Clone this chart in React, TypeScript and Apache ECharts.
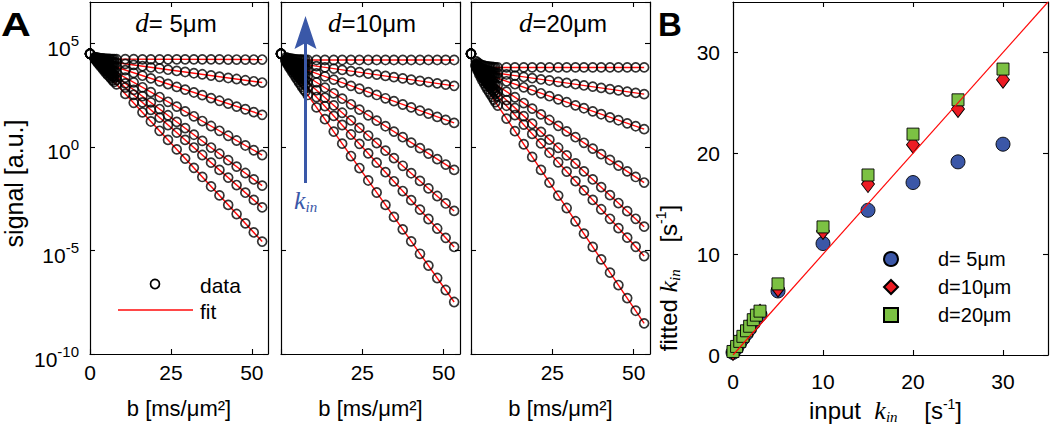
import { useEffect, useRef } from "react";
import * as echarts from "echarts";

// ---------------- data ----------------
// b-values [ms/µm²] at which every curve of panel A was sampled
const B_VALUES = [0, 1.5, 2, 2.5, 3, 3.5, 4, 4.5, 5, 5.5, 6, 6.5, 7, 7.5, 8.2, 10.9, 13.5, 16.2, 18.8, 21.5, 24.1, 26.8, 29.4, 32.1, 34.7, 37.4, 40.0, 42.7, 45.3, 48.0, 50.6, 53.2];

// log10(signal), one row per k_in curve
const D5_LOG_SIGNAL = [
  [4.5, 4.34, 4.32, 4.30, 4.29, 4.28, 4.27, 4.26, 4.25, 4.25, 4.25, 4.24, 4.24, 4.24, 4.24, 4.24, 4.24, 4.23, 4.23, 4.23, 4.23, 4.23, 4.23, 4.23, 4.23, 4.23, 4.23, 4.22, 4.22, 4.22, 4.22, 4.22],
  [4.5, 4.31, 4.28, 4.25, 4.23, 4.21, 4.19, 4.17, 4.15, 4.14, 4.12, 4.11, 4.10, 4.09, 4.07, 4.01, 3.96, 3.90, 3.84, 3.79, 3.73, 3.67, 3.62, 3.56, 3.51, 3.45, 3.39, 3.33, 3.28, 3.22, 3.17, 3.11],
  [4.5, 4.29, 4.25, 4.20, 4.17, 4.13, 4.10, 4.06, 4.03, 4.00, 3.97, 3.94, 3.91, 3.89, 3.85, 3.71, 3.58, 3.44, 3.31, 3.17, 3.04, 2.90, 2.77, 2.63, 2.50, 2.36, 2.23, 2.09, 1.95, 1.82, 1.68, 1.55],
  [4.5, 4.28, 4.22, 4.16, 4.10, 4.05, 3.99, 3.94, 3.89, 3.84, 3.79, 3.74, 3.70, 3.65, 3.59, 3.35, 3.12, 2.88, 2.65, 2.41, 2.18, 1.95, 1.72, 1.48, 1.25, 1.01, 0.78, 0.54, 0.31, 0.07, -0.16, -0.39],
  [4.5, 4.27, 4.19, 4.11, 4.04, 3.97, 3.90, 3.84, 3.77, 3.71, 3.65, 3.58, 3.52, 3.47, 3.38, 3.07, 2.76, 2.45, 2.15, 1.83, 1.53, 1.21, 0.91, 0.59, 0.29, -0.03, -0.33, -0.64, -0.95, -1.26, -1.57, -1.87],
  [4.5, 4.26, 4.17, 4.08, 4.00, 3.93, 3.85, 3.77, 3.69, 3.62, 3.55, 3.47, 3.41, 3.34, 3.24, 2.87, 2.52, 2.15, 1.79, 1.42, 1.06, 0.69, 0.34, -0.03, -0.39, -0.76, -1.11, -1.48, -1.84, -2.21, -2.56, -2.92],
  [4.5, 4.25, 4.15, 4.04, 3.95, 3.85, 3.76, 3.66, 3.57, 3.48, 3.40, 3.31, 3.22, 3.14, 3.02, 2.56, 2.13, 1.67, 1.23, 0.78, 0.34, -0.12, -0.56, -1.01, -1.45, -1.91, -2.34, -2.80, -3.24, -3.69, -4.13, -4.57],
];
const D10_LOG_SIGNAL = [
  [4.5, 4.32, 4.30, 4.28, 4.26, 4.25, 4.24, 4.23, 4.22, 4.22, 4.21, 4.21, 4.20, 4.20, 4.20, 4.20, 4.20, 4.20, 4.20, 4.20, 4.20, 4.20, 4.20, 4.20, 4.20, 4.20, 4.20, 4.20, 4.20, 4.20, 4.20, 4.20],
  [4.5, 4.23, 4.20, 4.17, 4.14, 4.12, 4.10, 4.08, 4.06, 4.04, 4.02, 4.01, 3.99, 3.98, 3.96, 3.90, 3.84, 3.78, 3.72, 3.66, 3.61, 3.54, 3.49, 3.43, 3.37, 3.31, 3.25, 3.19, 3.13, 3.07, 3.01, 2.95],
  [4.5, 4.20, 4.16, 4.11, 4.06, 4.02, 3.98, 3.94, 3.91, 3.88, 3.84, 3.81, 3.77, 3.74, 3.70, 3.55, 3.41, 3.25, 3.11, 2.95, 2.81, 2.65, 2.51, 2.35, 2.21, 2.05, 1.91, 1.75, 1.61, 1.45, 1.31, 1.16],
  [4.5, 4.18, 4.11, 4.04, 3.97, 3.91, 3.85, 3.79, 3.73, 3.68, 3.62, 3.57, 3.51, 3.46, 3.39, 3.12, 2.86, 2.59, 2.33, 2.06, 1.80, 1.53, 1.27, 1.00, 0.74, 0.47, 0.21, -0.06, -0.32, -0.59, -0.85, -1.11],
  [4.5, 4.16, 4.07, 3.98, 3.89, 3.81, 3.73, 3.66, 3.58, 3.51, 3.43, 3.36, 3.28, 3.21, 3.12, 2.74, 2.38, 2.01, 1.65, 1.28, 0.92, 0.55, 0.19, -0.18, -0.54, -0.91, -1.27, -1.64, -2.00, -2.37, -2.73, -3.09],
  [4.5, 4.14, 4.03, 3.93, 3.82, 3.73, 3.63, 3.54, 3.44, 3.35, 3.26, 3.17, 3.08, 2.99, 2.87, 2.41, 1.97, 1.50, 1.06, 0.60, 0.15, -0.31, -0.76, -1.22, -1.66, -2.13, -2.57, -3.03, -3.48, -3.94, -4.39, -4.83],
  [4.5, 4.12, 3.99, 3.86, 3.73, 3.61, 3.49, 3.37, 3.25, 3.13, 3.01, 2.90, 2.78, 2.67, 2.51, 1.91, 1.34, 0.74, 0.16, -0.44, -1.02, -1.62, -2.20, -2.80, -3.38, -3.98, -4.56, -5.16, -5.73, -6.33, -6.91, -7.49],
];
const D20_LOG_SIGNAL = [
  [4.5, 4.14, 4.08, 4.02, 3.98, 3.94, 3.92, 3.90, 3.89, 3.88, 3.87, 3.86, 3.85, 3.84, 3.84, 3.84, 3.84, 3.84, 3.84, 3.84, 3.84, 3.84, 3.84, 3.84, 3.84, 3.84, 3.84, 3.84, 3.84, 3.84, 3.84, 3.84],
  [4.5, 4.01, 3.94, 3.87, 3.82, 3.77, 3.74, 3.71, 3.68, 3.66, 3.64, 3.62, 3.60, 3.58, 3.56, 3.50, 3.44, 3.38, 3.32, 3.26, 3.21, 3.14, 3.09, 3.03, 2.97, 2.91, 2.85, 2.79, 2.73, 2.67, 2.61, 2.55],
  [4.5, 3.98, 3.90, 3.81, 3.74, 3.67, 3.63, 3.58, 3.54, 3.51, 3.47, 3.43, 3.39, 3.36, 3.32, 3.17, 3.03, 2.88, 2.74, 2.59, 2.45, 2.30, 2.16, 2.01, 1.87, 1.72, 1.58, 1.43, 1.29, 1.14, 1.00, 0.86],
  [4.5, 3.95, 3.84, 3.73, 3.63, 3.54, 3.47, 3.40, 3.34, 3.27, 3.21, 3.15, 3.09, 3.03, 2.95, 2.67, 2.40, 2.12, 1.85, 1.57, 1.30, 1.02, 0.75, 0.47, 0.20, -0.08, -0.35, -0.63, -0.90, -1.18, -1.45, -1.72],
  [4.5, 3.92, 3.78, 3.65, 3.54, 3.43, 3.34, 3.24, 3.16, 3.08, 3.00, 2.92, 2.83, 2.75, 2.65, 2.26, 1.88, 1.49, 1.12, 0.73, 0.35, -0.04, -0.41, -0.80, -1.18, -1.57, -1.94, -2.33, -2.71, -3.10, -3.47, -3.85],
  [4.5, 3.90, 3.75, 3.61, 3.48, 3.36, 3.25, 3.14, 3.05, 2.95, 2.86, 2.76, 2.67, 2.57, 2.45, 1.99, 1.54, 1.08, 0.63, 0.17, -0.28, -0.74, -1.19, -1.65, -2.10, -2.56, -3.01, -3.47, -3.92, -4.38, -4.82, -5.27],
  [4.5, 3.87, 3.69, 3.52, 3.36, 3.20, 3.07, 2.93, 2.80, 2.67, 2.55, 2.42, 2.29, 2.17, 2.00, 1.37, 0.76, 0.13, -0.48, -1.11, -1.72, -2.35, -2.95, -3.59, -4.19, -4.83, -5.43, -6.07, -6.67, -7.30, -7.91, -8.52],
];

// fitted mono-exponential lines (log10 signal at the first and last fitted b)
const FIT_B = [1.2, 53.2];
const D5_FIT_START = [4.24, 4.22, 4.21, 4.21, 4.20, 4.20, 4.20];
const D5_FIT_END = [4.22, 3.11, 1.55, -0.39, -1.87, -2.92, -4.57];
const D10_FIT_START = [4.20, 4.12, 4.10, 4.09, 4.08, 4.07, 4.07];
const D10_FIT_END = [4.20, 2.95, 1.16, -1.11, -3.09, -4.83, -7.49];
const D20_FIT_START = [3.84, 3.72, 3.70, 3.68, 3.66, 3.65, 3.64];
const D20_FIT_END = [3.84, 2.55, 0.86, -1.72, -3.85, -5.27, -8.52];

// panel B: input vs fitted k_in [1/s]
const KIN_INPUT = [0, 0.4, 0.75, 1.1, 1.5, 1.85, 2.25, 2.6, 3, 5, 10, 15, 20, 25, 30];
const KIN_FIT_D5 = [0.25, 0.7, 1.2, 1.65, 2.15, 2.6, 3.15, 3.6, 4.0, 6.35, 11.05, 14.35, 17.1, 19.15, 20.9];
const KIN_FIT_D10 = [0.3, 0.8, 1.3, 1.8, 2.3, 2.75, 3.35, 3.85, 4.2, 6.6, 12.3, 16.95, 20.85, 24.4, 27.3];
const KIN_FIT_D20 = [0.35, 0.85, 1.35, 1.85, 2.4, 2.85, 3.5, 3.95, 4.35, 7.05, 12.7, 17.85, 21.9, 25.3, 28.35];
const IDENTITY = [0, 35];

// ticks / labels
const A_X_TICKS = [0, 25, 50];
const A_X_MAX = 55;
const A_Y_EXPONENTS = [-10, -5, 0, 5];
const A_Y_MAX = 7;
const B_TICKS = [0, 10, 20, 30];
const B_MAX = 35;
const PANEL_D = ["= 5μm", "=10μm", "=20μm"];
const LEGEND_NAMES = ["d= 5μm", "d=10μm", "d=20μm"];

// ---------------- styling ----------------
const FONT = "'Liberation Sans', Arial, Helvetica, sans-serif";
const SERIF = "'Liberation Serif', 'Times New Roman', serif";
const RED = "#ff0a0a";
const BLUE_PT = "#3b57a7";
const RED_PT = "#ec1c24";
const GREEN_PT = "#7cc143";
const ARROW_BLUE = "#3a58a8";

const GRIDS = [
  { left: 90, top: 2, width: 178, height: 352 },
  { left: 281, top: 2, width: 179, height: 352 },
  { left: 471, top: 2, width: 179, height: 352 },
  { left: 733, top: 2, width: 315, height: 353 },
];

const axisLine = { show: true, onZero: false, lineStyle: { color: "#000", width: 1.2 } };
const axisTick = { show: true, inside: true, length: 5, lineStyle: { color: "#000", width: 1.1 } };
const noSplit = { show: false };

function buildOption() {
  const panels = [
    { logs: D5_LOG_SIGNAL, start: D5_FIT_START, end: D5_FIT_END },
    { logs: D10_LOG_SIGNAL, start: D10_FIT_START, end: D10_FIT_END },
    { logs: D20_LOG_SIGNAL, start: D20_FIT_START, end: D20_FIT_END },
  ];
  const xAxis: any[] = [];
  const yAxis: any[] = [];
  const series: any[] = [];
  const aInterval = A_X_TICKS[1] - A_X_TICKS[0];
  const yInterval = A_Y_EXPONENTS[1] - A_Y_EXPONENTS[0];

  panels.forEach((p, pi) => {
    xAxis.push({
      type: "value", gridIndex: pi, position: "bottom",
      min: A_X_TICKS[0], max: A_X_MAX, interval: aInterval,
      axisLine, axisTick, splitLine: noSplit,
      axisLabel: {
        show: true, margin: 8, color: "#000", fontSize: 21, fontFamily: FONT, showMaxLabel: false,
        formatter: (v: number) => (A_X_TICKS.indexOf(v) < 0 || (pi > 0 && v === 0) ? "" : String(v)),
      },
      name: "b [ms/μm²]", nameLocation: "middle", nameGap: 43,
      nameTextStyle: { color: "#000", fontSize: 22, fontFamily: FONT },
    });
    xAxis.push({
      type: "value", gridIndex: pi, position: "top",
      min: A_X_TICKS[0], max: A_X_MAX, interval: aInterval,
      axisLine, axisTick, splitLine: noSplit, axisLabel: { show: false },
    });
    yAxis.push({
      type: "value", gridIndex: pi, position: "left",
      min: A_Y_EXPONENTS[0], max: A_Y_MAX, interval: yInterval,
      axisLine, axisTick, splitLine: noSplit,
      axisLabel: pi === 0
        ? {
            show: true, margin: 11, showMaxLabel: false,
            formatter: (v: number) => (A_Y_EXPONENTS.indexOf(v) < 0 ? "" : `{b|10}{s|${v}}`),
            rich: {
              b: { fontSize: 21, fontFamily: FONT, color: "#000", lineHeight: 20, padding: [10, 0, 0, 0] },
              s: { fontSize: 15, fontFamily: FONT, color: "#000", lineHeight: 20, verticalAlign: "top" },
            },
          }
        : { show: false },
      name: pi === 0 ? "signal [a.u.]" : "", nameLocation: "middle", nameGap: 64,
      nameTextStyle: { color: "#000", fontSize: 25, fontFamily: FONT, padding: [0, 11, 0, 0] },
    });
    yAxis.push({
      type: "value", gridIndex: pi, position: "right",
      min: A_Y_EXPONENTS[0], max: A_Y_MAX, interval: yInterval,
      axisLine, axisTick, splitLine: noSplit, axisLabel: { show: false },
    });

    p.start.forEach((s, i) => {
      series.push({
        type: "line", name: `fit${pi}_${i}`, xAxisIndex: 2 * pi, yAxisIndex: 2 * pi,
        data: [[FIT_B[0], s], [FIT_B[1], p.end[i]]],
        symbol: "none", showSymbol: false, silent: true,
        lineStyle: { color: RED, width: 1.4 }, z: 2,
      });
    });
    const pts: number[][] = [];
    p.logs.forEach((row) => row.forEach((v, j) => pts.push([B_VALUES[j], v])));
    series.push({
      type: "scatter", name: `data${pi}`, xAxisIndex: 2 * pi, yAxisIndex: 2 * pi,
      data: pts, symbol: "circle", symbolSize: 9, silent: true,
      itemStyle: { color: "rgba(0,0,0,0)", borderColor: "#000", borderWidth: 1.7 },
      z: 3,
    });
  });

  // panel B axes
  const bInterval = B_TICKS[1] - B_TICKS[0];
  xAxis.push({
    type: "value", gridIndex: 3, position: "bottom", min: B_TICKS[0], max: B_MAX, interval: bInterval,
    axisLine, axisTick, splitLine: noSplit,
    axisLabel: {
      show: true, margin: 16, color: "#000", fontSize: 21, fontFamily: FONT, showMaxLabel: false,
      formatter: (v: number) => (B_TICKS.indexOf(v) < 0 ? "" : String(v)),
    },
    name: "{t|input  }{k|k}{i|in}{t|    [s}{s|-1}{t|]}", nameLocation: "middle", nameGap: 40,
    nameTextStyle: {
      color: "#000", padding: [0, 10, 0, 0],
      rich: {
        t: { fontSize: 24, fontFamily: FONT, color: "#000", lineHeight: 28 },
        k: { fontSize: 26, fontFamily: SERIF, fontStyle: "italic", color: "#000", lineHeight: 28 },
        i: { fontSize: 15, fontFamily: SERIF, fontStyle: "italic", color: "#000", lineHeight: 10, verticalAlign: "bottom" },
        s: { fontSize: 14, fontFamily: FONT, color: "#000", lineHeight: 10, verticalAlign: "top" },
      },
    },
  });
  xAxis.push({
    type: "value", gridIndex: 3, position: "top", min: B_TICKS[0], max: B_MAX, interval: bInterval,
    axisLine, axisTick, splitLine: noSplit, axisLabel: { show: false },
  });
  yAxis.push({
    type: "value", gridIndex: 3, position: "left", min: B_TICKS[0], max: B_MAX, interval: bInterval,
    axisLine, axisTick, splitLine: noSplit,
    axisLabel: {
      show: true, margin: 13, color: "#000", fontSize: 21, fontFamily: FONT, showMaxLabel: false,
      formatter: (v: number) => (B_TICKS.indexOf(v) < 0 ? "" : String(v)),
    },
  });
  yAxis.push({
    type: "value", gridIndex: 3, position: "right", min: B_TICKS[0], max: B_MAX, interval: bInterval,
    axisLine, axisTick, splitLine: noSplit, axisLabel: { show: false },
  });

  const bSeries = [
    { name: LEGEND_NAMES[0], vals: KIN_FIT_D5, symbol: "circle", size: 14, color: BLUE_PT },
    { name: LEGEND_NAMES[1], vals: KIN_FIT_D10, symbol: "diamond", size: [13, 17], color: RED_PT },
    { name: LEGEND_NAMES[2], vals: KIN_FIT_D20, symbol: "rect", size: 12, color: GREEN_PT },
  ];
  bSeries.forEach((b) => {
    series.push({
      type: "scatter", name: b.name, xAxisIndex: 6, yAxisIndex: 6,
      data: KIN_INPUT.map((k, i) => [k, b.vals[i]]),
      symbol: b.symbol, symbolSize: b.size, silent: true,
      itemStyle: { color: b.color, borderColor: "#000", borderWidth: 0.9, opacity: 1 },
      z: 2,
    });
  });
  series.push({
    type: "line", name: "identity", xAxisIndex: 6, yAxisIndex: 6,
    data: IDENTITY.map((v) => [v, v]), symbol: "none", showSymbol: false, silent: true,
    lineStyle: { color: RED, width: 1.2 }, z: 4,
  });

  const titleRich = {
    i: { fontFamily: SERIF, fontStyle: "italic", fontSize: 27, fill: "#000", lineHeight: 30 },
    n: { fontFamily: FONT, fontSize: 24, fill: "#000", lineHeight: 30 },
  };
  const titleX = [176, 372, 563];

  const graphic: any[] = [
    { type: "text", x: 1, y: 8, scaleX: 1.25, z: 20, style: { text: "A", fontFamily: FONT, fontSize: 33, fontWeight: "bold", fill: "#000" } },
    { type: "text", x: 658, y: 8, z: 20, style: { text: "B", fontFamily: FONT, fontSize: 33, fontWeight: "bold", fill: "#000" } },
    ...PANEL_D.map((t, i) => ({
      type: "text", x: titleX[i], y: 23, z: 20,
      style: { text: `{i|d}{n|${t}}`, rich: titleRich, align: "center", verticalAlign: "middle", textAlign: "center", textVerticalAlign: "middle" },
    })),
    // legend of panel A
    { type: "circle", z: 20, shape: { cx: 155, cy: 284, r: 4.5 }, style: { fill: "none", stroke: "#000", lineWidth: 1.7 } },
    { type: "text", x: 200, y: 285, z: 20, style: { text: "data", fontFamily: FONT, fontSize: 21, fill: "#000", verticalAlign: "middle", textVerticalAlign: "middle" } },
    { type: "line", z: 20, shape: { x1: 118, y1: 310, x2: 193, y2: 310 }, style: { stroke: RED, lineWidth: 1.4 } },
    { type: "text", x: 200, y: 311, z: 20, style: { text: "fit", fontFamily: FONT, fontSize: 21, fill: "#000", verticalAlign: "middle", textVerticalAlign: "middle" } },
    // k_in arrow in panel A (d=10)
    { type: "line", z: 30, shape: { x1: 305.5, y1: 183, x2: 305.5, y2: 40 }, style: { stroke: ARROW_BLUE, lineWidth: 3 } },
    { type: "polygon", z: 30, shape: { points: [[305.5, 16], [316.5, 49], [305.5, 43], [294.5, 49]] }, style: { fill: ARROW_BLUE } },
    {
      type: "text", x: 294, y: 200, z: 30,
      style: {
        text: "{k|k}{i|in}", align: "left", verticalAlign: "middle", textVerticalAlign: "middle",
        rich: {
          k: { fontFamily: SERIF, fontStyle: "italic", fontSize: 26, fill: ARROW_BLUE, lineHeight: 28 },
          i: { fontFamily: SERIF, fontStyle: "italic", fontSize: 15, fill: ARROW_BLUE, lineHeight: 10, verticalAlign: "bottom" },
        },
      },
    },
    // y-axis title of panel B
    {
      type: "text", x: 668, y: 278, rotation: Math.PI / 2, z: 20,
      style: {
        text: "{t|fitted }{k|k}{i|in}{t|    [s}{s|-1}{t|]}",
        align: "center", verticalAlign: "middle", textAlign: "center", textVerticalAlign: "middle",
        rich: {
          t: { fontSize: 24, fontFamily: FONT, fill: "#000", lineHeight: 28 },
          k: { fontSize: 26, fontFamily: SERIF, fontStyle: "italic", fill: "#000", lineHeight: 28 },
          i: { fontSize: 15, fontFamily: SERIF, fontStyle: "italic", fill: "#000", lineHeight: 10, verticalAlign: "bottom" },
          s: { fontSize: 14, fontFamily: FONT, fill: "#000", lineHeight: 10, verticalAlign: "top" },
        },
      },
    },
  ];

  return {
    animation: false,
    backgroundColor: "#fff",
    grid: GRIDS.map((g) => ({ ...g, containLabel: false, outerBoundsMode: "none" })),
    xAxis,
    yAxis,
    legend: {
      show: true, orient: "vertical", left: 878, top: 244, itemWidth: 14, itemHeight: 14, itemGap: 8,
      selectedMode: false,
      data: [
        { name: LEGEND_NAMES[0], icon: "circle" },
        { name: LEGEND_NAMES[1], icon: "diamond" },
        { name: LEGEND_NAMES[2], icon: "rect" },
      ],
      textStyle: { fontSize: 20, fontFamily: FONT, color: "#000", padding: [0, 0, 0, 35], lineHeight: 16 },
    },
    series,
    graphic,
  };
}

export default function App() {
  const ref = useRef<HTMLDivElement>(null);
  useEffect(() => {
    if (!ref.current) return;
    const chart = echarts.init(ref.current, null, { renderer: "svg" });
    chart.setOption(buildOption() as any);
    return () => chart.dispose();
  }, []);
  return (
    <div
      ref={ref}
      style={{ position: "absolute", left: 0, top: 0, width: 1050, height: 427, background: "#fff" }}
    />
  );
}
